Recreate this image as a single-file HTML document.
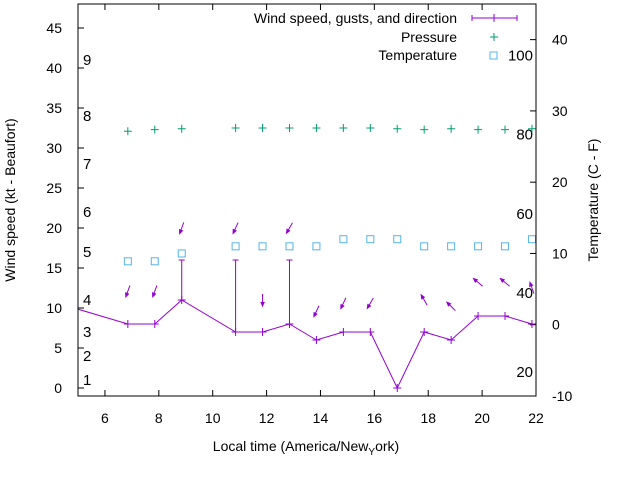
<!DOCTYPE html>
<html><head><meta charset="utf-8"><style>
body{margin:0;background:#fff}
svg{display:block;font-family:"Liberation Sans",sans-serif}
</style></head><body>
<svg id="c" width="640" height="480" xmlns="http://www.w3.org/2000/svg">
<rect width="640" height="480" fill="#fff"/>
<g id="axes"></g>
<g id="marks"></g>
<rect x="78" y="4" width="458" height="392" fill="none" stroke="#000" stroke-width="1"/>
<text x="306" y="451" font-size="14" text-anchor="middle">Local time (America/New<tspan font-size="10" dy="4">Y</tspan><tspan dy="-4">ork)</tspan></text>
<text transform="translate(15,200) rotate(-90)" font-size="14" text-anchor="middle">Wind speed (kt - Beaufort)</text>
<text transform="translate(598,200) rotate(-90)" font-size="14" text-anchor="middle">Temperature (C - F)</text>
<g>
<text x="457" y="23" font-size="14" text-anchor="end">Wind speed, gusts, and direction</text>
<path d="M472 18H517M472 15V21M517 15V21M494 14V22M490 18H498" stroke="#9400d3"/>
<text x="457" y="42" font-size="14" text-anchor="end">Pressure</text>
<path d="M494 33V41M490 37H498" stroke="#009e73"/>
<text x="457" y="60" font-size="14" text-anchor="end">Temperature</text>
<rect x="490" y="52" width="7" height="7" fill="none" stroke="#56b4e9"/>
</g>
</svg>
<script>
const times=[4.85,6.85,7.85,8.85,10.85,11.85,12.85,13.85,14.85,15.85,16.85,17.85,18.85,19.85,20.85,21.85];
const windSpeed=[10,8,8,11,7,7,8,6,7,7,0,7,6,9,9,8];
const gustTimes=[8.85,10.85,12.85];
const gustBase=[11,7,8];
const gustValues=[16,16,16];
const pressTimes=[6.85,7.85,8.85,10.85,11.85,12.85,13.85,14.85,15.85,16.85,17.85,18.85,19.85,20.85,21.85];
const pressure=[32.1,32.3,32.4,32.5,32.5,32.5,32.5,32.5,32.5,32.4,32.3,32.4,32.3,32.3,32.4];
const tempC=[8.9,8.9,10,11,11,11,11,12,12,12,11,11,11,11,12];
const arrowTimes=[6.85,7.85,8.85,10.85,11.85,12.85,13.85,14.85,15.85,17.85,18.85,19.85,20.85,21.85];
const arrowLevel=[12.1,12.1,20,20,11,20,9.6,10.6,10.6,11,10.2,13.2,13.2,12.5];
const windDir=[20,20,20,25,0,30,25,25,30,150,135,130,130,160];
const xTicks=[6,8,10,12,14,16,18,20,22];
const yTicks=[0,5,10,15,20,25,30,35,40,45];
const y2Ticks=[-10,0,10,20,30,40];
const beaufortKt=[1,4,7,11,17,22,28,34,41];
const beaufortLabels=["1","2","3","4","5","6","7","8","9"];
const fahrenheit=[20,40,60,80,100];

const L=78,R=536,T=4,B=396;
const X=t=>L+(t-5)/(22-5)*(R-L);
const Y=v=>B-(v+1)/(48+1)*(B-T);
const Y2=c=>B-(c+10)/(45+10)*(B-T);
const NS="http://www.w3.org/2000/svg";
function mk(tag,attrs,parent,txt){const e=document.createElementNS(NS,tag);for(const k in attrs)e.setAttribute(k,attrs[k]);if(txt!==undefined)e.textContent=txt;parent.appendChild(e);return e;}
const ax=document.getElementById('axes'),mg=document.getElementById('marks');
xTicks.forEach(t=>{const x=X(t);
 const p=mk('path',{d:`M${x} ${B}v-6M${x} ${T}v6`,stroke:'#000'},ax);
 
 
 const l=mk('text',{x:x,y:B+27,'font-size':14,'text-anchor':'middle'},ax,String(t));
 
 });
yTicks.forEach(v=>{const y=Y(v);
 const p=mk('path',{d:`M${L} ${y}h6`,stroke:'#000'},ax);
 
 
 const l=mk('text',{x:62,y:y+5,'font-size':14,'text-anchor':'end'},ax,String(v));
 
 });
y2Ticks.forEach(v=>{const y=Y2(v);
 const p=mk('path',{d:`M${R} ${y}h-6`,stroke:'#000'},ax);
 
 
 const l=mk('text',{x:552,y:y+5,'font-size':14,'text-anchor':'start'},ax,String(v));
 
 });
beaufortKt.forEach((k,i)=>{const l=mk('text',{x:83,y:Y(k)+5,'font-size':15},ax,beaufortLabels[i]);
 
 });
fahrenheit.forEach(f=>{const l=mk('text',{x:533,y:Y2((f-32)*5/9)+5,'font-size':15,'text-anchor':'end'},ax,String(f));
 
 });
const clip=mk('clipPath',{id:'cl'},mg);mk('rect',{x:L,y:T,width:R-L,height:B-T},clip);
const g=mk('g',{'clip-path':'url(#cl)'},mg);
const line=mk('polyline',{points:times.map((t,i)=>X(t)+','+Y(windSpeed[i])).join(' '),fill:'none',stroke:'#9400d3'},g);


times.forEach((t,i)=>{const x=X(t),y=Y(windSpeed[i]);
 const p=mk('path',{d:`M${x-4} ${y}h8M${x} ${y-4}v8`,stroke:'#9400d3'},g);
 
 });
gustTimes.forEach((t,i)=>{const x=X(t),y0=Y(gustBase[i]),y1=Y(gustValues[i]);
 const p=mk('path',{d:`M${x} ${y0}V${y1}M${x-3} ${y1}h6`,stroke:'#9400d3'},g);
 
 });
pressTimes.forEach((t,i)=>{const x=X(t),y=Y(pressure[i]);
 const p=mk('path',{d:`M${x-4} ${y}h8M${x} ${y-4}v8`,stroke:'#009e73'},g);
 
 
 const yt=Y2(tempC[i]);
 const r=mk('rect',{x:x-3.5,y:yt-3.5,width:7,height:7,fill:'none',stroke:'#56b4e9'},g);
 
 });
arrowTimes.forEach((t,i)=>{const cx=X(t),cy=Y(arrowLevel[i]);const a=(windDir[i]+180)*Math.PI/180;
 const dx=Math.sin(a)*6,dy=-Math.cos(a)*6;const hx=cx+dx,hy=cy+dy;
 const ang=Math.atan2(dy,dx);const h=4,s=0.4;
 const p1=[hx-h*Math.cos(ang-s),hy-h*Math.sin(ang-s)],p2=[hx-h*Math.cos(ang+s),hy-h*Math.sin(ang+s)];
 const p=mk('path',{d:`M${cx-dx} ${cy-dy}L${hx} ${hy}M${p1[0]} ${p1[1]}L${hx} ${hy}L${p2[0]} ${p2[1]}Z`,stroke:'#9400d3',fill:'#9400d3'},g);
 
 });
</script>
</body></html>
